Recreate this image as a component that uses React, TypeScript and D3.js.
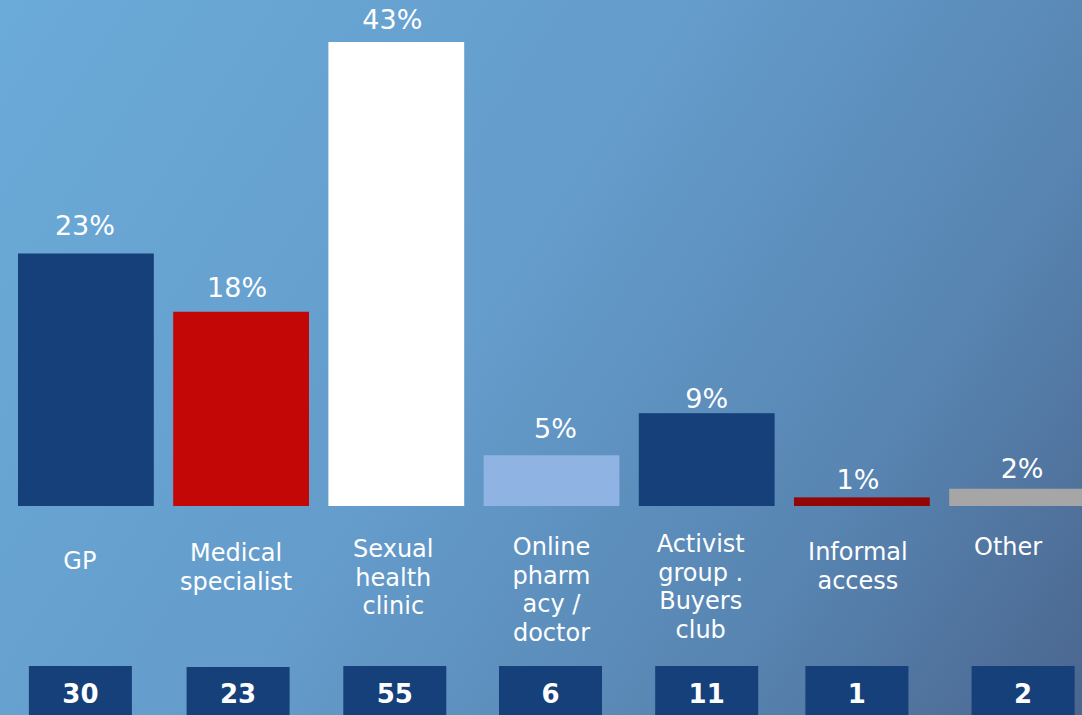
import React from "react";
import * as d3 from "d3";

const categories: string[][] = [
  ["GP"],
  ["Medical", "specialist"],
  ["Sexual", "health", "clinic"],
  ["Online", "pharm", "acy /", "doctor"],
  ["Activist", "group .", "Buyers", "club"],
  ["Informal", "access"],
  ["Other"],
];
const shares: number[] = [23.4, 18.0, 43.0, 4.7, 8.6, 0.8, 1.6];
const shareLabels: string[] = ["23%", "18%", "43%", "5%", "9%", "1%", "2%"];
const counts: number[] = [30, 23, 55, 6, 11, 1, 2];
const barColors: string[] = ["#154079", "#c30707", "#ffffff", "#8fb4e3", "#154079", "#930606", "#a6a6a6"];

// layout tweaks (label / box nudges, first-line baselines)
const pctDx = [-1, -4, -4, 4, 0, -4, 5];
const pctGap = [18, 15, 13, 17, 5, 8, 11];
const labelDx = [-6, -5, -3, 0, -6, -4, -9];
const labelTop = [569, 561, 557, 555, 552, 560, 555];
const boxDx = [-5.5, -3, -1.5, -1, 0, -5, 6];
const boxTop = [666, 667, 666, 666, 666, 666, 666];

const W = 1082;
const H = 715;

export default function App() {
  const keys = categories.map((c) => c.join(" "));
  const x = d3
    .scaleBand<string>()
    .domain(keys)
    .range([8.3, 8.3 + 155.2 * 7])
    .paddingInner(0.125)
    .paddingOuter(0.0625);
  const y = d3.scaleLinear().domain([0, 43]).range([506, 42]);
  const bw = x.bandwidth();
  const font = "'DejaVu Sans', Verdana, sans-serif";

  return (
    <div style={{ position: "fixed", left: 0, top: 0, width: W, height: H }}>
      <svg width={W} height={H} style={{ display: "block" }}>
        <defs>
          <linearGradient id="bg" gradientUnits="userSpaceOnUse" x1={0} y1={0} x2={W} y2={H}>
            <stop offset="0" stopColor="#6babd9" />
            <stop offset="0.45" stopColor="#649ccb" />
            <stop offset="0.75" stopColor="#5885b2" />
            <stop offset="1" stopColor="#4a668e" />
          </linearGradient>
        </defs>
        <rect x={0} y={0} width={W} height={H} fill="url(#bg)" />
        {keys.map((k, i) => {
          const x0 = x(k)!;
          const cx = x0 + bw / 2;
          return (
            <g key={k}>
              <rect x={x0} y={y(shares[i])} width={bw} height={y(0) - y(shares[i])} fill={barColors[i]} />
              <text
                x={cx + pctDx[i]}
                y={y(shares[i]) - pctGap[i]}
                textAnchor="middle"
                fill="#ffffff"
                fontFamily={font}
                fontSize={27}
              >
                {shareLabels[i]}
              </text>
              {categories[i].map((line, j) => (
                <text
                  key={j}
                  x={cx + labelDx[i]}
                  y={labelTop[i] + j * 28.5}
                  textAnchor="middle"
                  fill="#ffffff"
                  fontFamily={font}
                  fontSize={24}
                >
                  {line}
                </text>
              ))}
              <rect x={cx + boxDx[i] - 51.5} y={boxTop[i]} width={103} height={H - boxTop[i]} fill="#15407a" />
              <text
                x={cx + boxDx[i]}
                y={702.5}
                textAnchor="middle"
                fill="#ffffff"
                fontFamily={font}
                fontWeight="bold"
                fontSize={26}
              >
                {counts[i]}
              </text>
            </g>
          );
        })}
      </svg>
    </div>
  );
}
